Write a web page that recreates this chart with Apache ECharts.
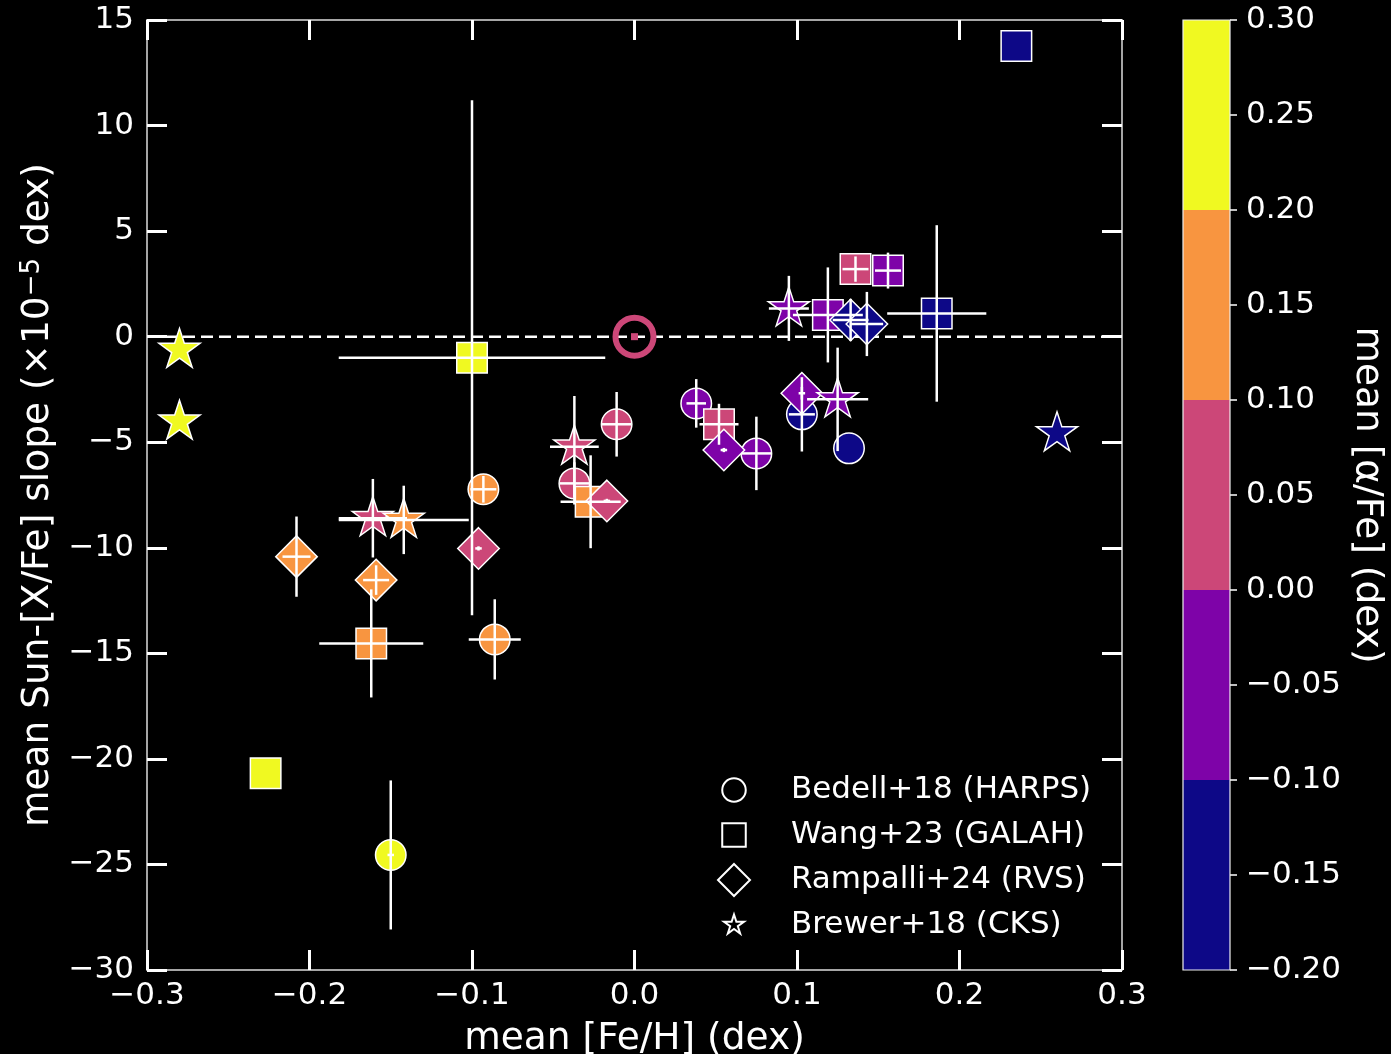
<!DOCTYPE html>
<html><head><meta charset="utf-8">
<script src="https://cdn.jsdelivr.net/npm/echarts@6/dist/echarts.min.js"></script>
<style>html,body{margin:0;padding:0;background:#000;}#c{width:1391px;height:1054px;}</style>
</head><body><div id="c"></div>
<script>
// ---- data ----
const bedellFeh   = [-0.011, -0.037, -0.093, -0.086, -0.150, 0.038, 0.075, 0.103, 0.132];
const bedellSlope = [-4.15, -6.95, -7.23, -14.34, -24.55, -3.16, -5.53, -3.68, -5.29];
const bedellAlpha = [0.05, 0.05, 0.15, 0.15, 0.25, -0.05, -0.05, -0.15, -0.15];
const bedellXerr  = [0.009, 0.009, 0.008, 0.016, 0.002, 0.006, 0.009, 0.008, 0];
const bedellYerr  = [1.53, 1.0, 0.63, 1.9, 3.53, 1.15, 1.74, 1.76, 0];

const wangFeh   = [-0.100, -0.027, -0.162, -0.227, 0.052, 0.136, 0.156, 0.119, 0.186, 0.235];
const wangSlope = [-1.0, -7.82, -14.53, -20.68, -4.15, 3.2, 3.13, 1.03, 1.1, 13.77];
const wangAlpha = [0.25, 0.15, 0.15, 0.25, 0.05, 0.05, -0.05, -0.05, -0.15, -0.15];
const wangXerr  = [0.082, 0.0185, 0.032, 0, 0.012, 0.008, 0.008, 0.0215, 0.0305, 0];
const wangYerr  = [12.2, 2.2, 2.56, 0, 0.97, 0.6, 0.85, 2.25, 4.18, 0];

const rampFeh   = [-0.017, -0.096, -0.208, -0.159, 0.055, 0.103, 0.133, 0.143];
const rampSlope = [-7.78, -10.03, -10.42, -11.53, -5.37, -2.68, 0.79, 0.6];
const rampAlpha = [0.05, 0.05, 0.15, 0.15, -0.05, -0.05, -0.15, -0.15];
const rampXerr  = [0.002, 0.002, 0.0086, 0.008, 0.002, 0.002, 0.011, 0.01];
const rampYerr  = [0.1, 0.1, 1.9, 0.7, 0.1, 0.3, 1.0, 1.52];

const brewFeh   = [-0.280, -0.280, -0.037, -0.161, -0.142, 0.095, 0.125, 0.260];
const brewSlope = [-0.63, -4.03, -5.21, -8.6, -8.68, 1.34, -2.97, -4.58];
const brewAlpha = [0.25, 0.25, 0.05, 0.05, 0.15, -0.05, -0.05, -0.15];
const brewXerr  = [0, 0, 0.015, 0.021, 0.04, 0.0123, 0.0188, 0];
const brewYerr  = [0, 0, 2.4, 1.86, 1.62, 1.54, 2.45, 0];

const sunFeh = [0.0];
const sunSlope = [0.0];

const surveyNames = ['Bedell+18 (HARPS)', 'Wang+23 (GALAH)', 'Rampalli+24 (RVS)', 'Brewer+18 (CKS)'];
const cbEdges  = [-0.2, -0.1, 0.0, 0.1, 0.2, 0.3];
const cbColors = ['#0d0887', '#7e03a8', '#cc4778', '#f89540', '#f0f921'];
const sunColor = '#cc4778';

// ---- helpers ----
const FONT = 'DejaVu Sans';
const minus = s => s.replace('-', '\u2212');
const fmtX = v => { const s = (Math.abs(v) < 1e-9 ? 0 : v).toFixed(1); return minus(s); };
const fmtY = v => minus(String(Math.round(v)));
const fmtC = v => { const s = (Math.abs(v) < 1e-9 ? 0 : v).toFixed(2); return minus(s); };

function pts(fx, fy, fa) { return fx.map((x, i) => [x, fy[i], fa[i]]); }
function errs(fx, fy, ex, ey) { return fx.map((x, i) => [x, fy[i], ex[i], ey[i]]); }

const starPath = 'M50,100 M50,0 L61.23,34.55 L97.55,34.55 L68.17,55.9 L79.39,90.45 L50,69.1 L20.61,90.45 L31.83,55.9 L2.45,34.55 L38.77,34.55 Z';
const starSym = 'path://' + starPath;
const legCircle = 'path://M-18,-18 M118,118 M100,50 A50,50 0 1,1 0,50 A50,50 0 1,1 100,50 Z';
const legRect = 'path://M-18,-18 M118,118 M0,0 L100,0 L100,100 L0,100 Z';
const legDiamond = 'path://M50,0 L100,50 L50,100 L0,50 Z';
const legStar = 'path://M-26,-26 M126,126 M50,0 L61.23,34.55 L97.55,34.55 L68.17,55.9 L79.39,90.45 L50,69.1 L20.61,90.45 L31.83,55.9 L2.45,34.55 L38.77,34.55 Z';

const allErr = [].concat(
  errs(bedellFeh, bedellSlope, bedellXerr, bedellYerr),
  errs(wangFeh, wangSlope, wangXerr, wangYerr),
  errs(rampFeh, rampSlope, rampXerr, rampYerr),
  errs(brewFeh, brewSlope, brewXerr, brewYerr)
);

const cbData = cbColors.map((c, i) => [cbEdges[i], cbEdges[i + 1], i]);

const tickStyle = { show: true, inside: true, length: 20, lineStyle: { color: '#fff', width: 3 } };
const lineStyleAx = { show: true, onZero: false, lineStyle: { color: '#ddd', width: 1.5 } };
const labStyle = { color: '#fff', fontSize: 31, fontFamily: FONT };
const titleStyle = { color: '#fff', fontSize: 37.5, fontFamily: FONT };

const markerEdge = { borderColor: '#fff', borderWidth: 1.5, opacity: 1 };
const legItem = { color: 'rgba(0,0,0,0)', borderColor: '#fff', borderWidth: 2, opacity: 1 };

const chart = echarts.init(document.getElementById('c'));
chart.setOption({
  backgroundColor: '#000',
  animation: false,
  grid: [
    { left: 147, top: 20, width: 975, height: 950, containLabel: false, outerBoundsMode: 'none' },
    { left: 1183, top: 20, width: 47, height: 950, containLabel: false, outerBoundsMode: 'none' }
  ],
  visualMap: {
    show: false, type: 'piecewise', dimension: 2, seriesIndex: [1, 2, 3, 4],
    pieces: cbColors.map((c, i) => ({ gte: cbEdges[i], lt: cbEdges[i + 1], color: c }))
  },
  legend: {
    orient: 'vertical', left: 717, top: 773, padding: 0,
    itemWidth: 104, itemHeight: 32, itemGap: 11, selectedMode: false,
    textStyle: { color: '#fff', fontSize: 31, fontFamily: FONT },
    data: [
      { name: surveyNames[0], icon: legCircle, itemStyle: legItem },
      { name: surveyNames[1], icon: legRect, itemStyle: legItem },
      { name: surveyNames[2], icon: legDiamond, itemStyle: legItem },
      { name: surveyNames[3], icon: legStar, itemStyle: legItem }
    ]
  },
  xAxis: [
    { gridIndex: 0, type: 'value', min: -0.3, max: 0.3, interval: 0.1, position: 'bottom',
      axisLine: lineStyleAx, axisTick: tickStyle, splitLine: { show: false },
      axisLabel: Object.assign({ margin: 10, formatter: fmtX }, labStyle),
      name: 'mean [Fe/H] (dex)', nameLocation: 'middle', nameGap: 50,
      nameTextStyle: titleStyle },
    { gridIndex: 0, type: 'value', min: -0.3, max: 0.3, interval: 0.1, position: 'top',
      axisLine: lineStyleAx, axisTick: tickStyle, splitLine: { show: false }, axisLabel: { show: false } },
    { gridIndex: 1, type: 'value', min: 0, max: 1, show: false }
  ],
  yAxis: [
    { gridIndex: 0, type: 'value', min: -30, max: 15, interval: 5, position: 'left',
      axisLine: lineStyleAx, axisTick: tickStyle, splitLine: { show: false },
      axisLabel: Object.assign({ margin: 13, formatter: fmtY }, labStyle),
      name: 'mean Sun-[X/Fe] slope (\u00d710{sup|\u22125} dex)', nameLocation: 'middle', nameGap: 90,
      nameTextStyle: Object.assign({ rich: { sup: { color: '#fff', fontSize: 26, fontFamily: FONT, verticalAlign: 'top' } } }, titleStyle) },
    { gridIndex: 0, type: 'value', min: -30, max: 15, interval: 5, position: 'right',
      axisLine: lineStyleAx, axisTick: tickStyle, splitLine: { show: false }, axisLabel: { show: false } },
    { gridIndex: 1, type: 'value', min: -0.2, max: 0.3, interval: 0.05, position: 'right',
      axisLine: { show: false, onZero: false },
      axisTick: { show: true, inside: false, length: 7, lineStyle: { color: '#fff', width: 1.5 } },
      splitLine: { show: false },
      axisLabel: Object.assign({ margin: 16, formatter: fmtC }, labStyle),
      name: 'mean [\u03b1/Fe] (dex)', nameLocation: 'middle', nameGap: 118, nameRotate: -90,
      nameTextStyle: titleStyle }
  ],
  series: [
    { type: 'line', xAxisIndex: 0, yAxisIndex: 0, data: [[-0.3, 0], [0.3, 0]], symbol: 'none', z: 1, silent: true,
      lineStyle: { color: '#fff', width: 2.5, type: [12, 6] } },
    { name: surveyNames[0], type: 'scatter', xAxisIndex: 0, yAxisIndex: 0, z: 2,
      data: pts(bedellFeh, bedellSlope, bedellAlpha), symbol: 'circle', symbolSize: 30.5, itemStyle: markerEdge },
    { name: surveyNames[1], type: 'scatter', xAxisIndex: 0, yAxisIndex: 0, z: 2,
      data: pts(wangFeh, wangSlope, wangAlpha), symbol: 'rect', symbolSize: 30.5, itemStyle: markerEdge },
    { name: surveyNames[2], type: 'scatter', xAxisIndex: 0, yAxisIndex: 0, z: 2,
      data: pts(rampFeh, rampSlope, rampAlpha), symbol: 'diamond', symbolSize: 41.5, itemStyle: markerEdge },
    { name: surveyNames[3], type: 'scatter', xAxisIndex: 0, yAxisIndex: 0, z: 2,
      data: pts(brewFeh, brewSlope, brewAlpha), symbol: starSym, symbolSize: [41, 43], itemStyle: markerEdge },
    { type: 'scatter', xAxisIndex: 0, yAxisIndex: 0, z: 2, silent: true,
      data: sunFeh.map((x, i) => [x, sunSlope[i]]), symbol: 'circle', symbolSize: 38,
      itemStyle: { color: 'rgba(0,0,0,0)', borderColor: sunColor, borderWidth: 6, opacity: 1 } },
    { type: 'scatter', xAxisIndex: 0, yAxisIndex: 0, z: 2, silent: true,
      data: sunFeh.map((x, i) => [x, sunSlope[i]]), symbol: 'rect', symbolSize: 7,
      itemStyle: { color: sunColor, opacity: 1 } },
    { type: 'custom', xAxisIndex: 0, yAxisIndex: 0, z: 3, silent: true, data: allErr,
      renderItem: function (params, api) {
        const x = api.value(0), y = api.value(1), ex = api.value(2), ey = api.value(3);
        const st = { stroke: '#fff', lineWidth: 2.5 };
        const ch = [];
        if (ex > 0) { const a = api.coord([x - ex, y]), b = api.coord([x + ex, y]);
          ch.push({ type: 'line', shape: { x1: a[0], y1: a[1], x2: b[0], y2: b[1] }, style: st }); }
        if (ey > 0) { const a = api.coord([x, y - ey]), b = api.coord([x, y + ey]);
          ch.push({ type: 'line', shape: { x1: a[0], y1: a[1], x2: b[0], y2: b[1] }, style: st }); }
        return { type: 'group', children: ch };
      } },
    { type: 'custom', xAxisIndex: 2, yAxisIndex: 2, z: 2, silent: true, data: cbData,
      renderItem: function (params, api) {
        const lo = api.value(0), hi = api.value(1), idx = api.value(2);
        const p1 = api.coord([0, hi]), p2 = api.coord([1, lo]);
        return { type: 'rect', shape: { x: p1[0], y: p1[1], width: p2[0] - p1[0], height: p2[1] - p1[1] },
          style: { fill: cbColors[idx] } };
      } },
    { type: 'custom', xAxisIndex: 2, yAxisIndex: 2, z: 3, silent: true, data: [[cbEdges[0], cbEdges[cbEdges.length - 1]]],
      renderItem: function (params, api) {
        const p1 = api.coord([0, api.value(1)]), p2 = api.coord([1, api.value(0)]);
        return { type: 'rect', shape: { x: p1[0], y: p1[1], width: p2[0] - p1[0], height: p2[1] - p1[1] },
          style: { fill: 'none', stroke: '#eee', lineWidth: 1.2 } };
      } }
  ]
});
</script>
</body></html>
